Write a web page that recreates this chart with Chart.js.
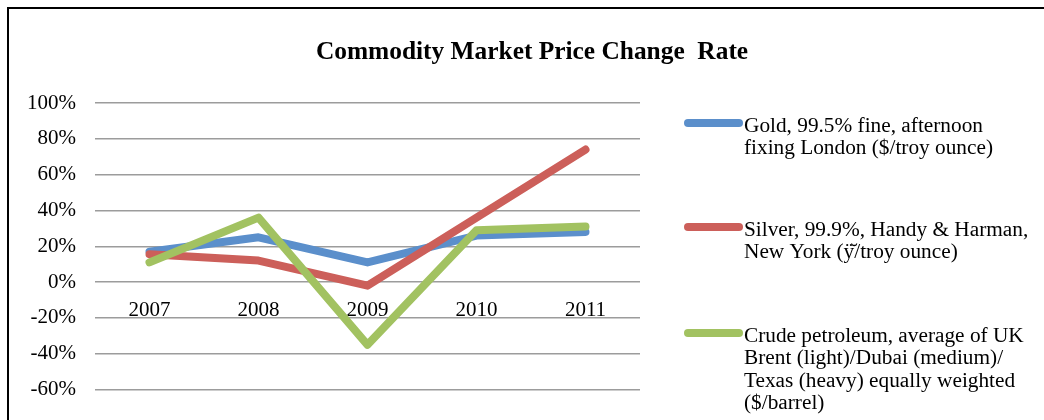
<!DOCTYPE html>
<html>
<head>
<meta charset="utf-8">
<script src="https://cdn.jsdelivr.net/npm/chart.js@4/dist/chart.umd.min.js"></script>
<style>
  html, body { margin: 0; padding: 0; background: #fff; overflow: hidden; }
  #wrap { width: 1044px; height: 457px; }
</style>
</head>
<body>
<div id="wrap"><canvas id="myChart" width="1044" height="457"></canvas></div>
<script>
const years = ['2007', '2008', '2009', '2010', '2011'];
const gold = [17, 25, 11, 26, 28];
const silver = [15.5, 12, -2, 36, 74];
const crude = [11, 36, -35, 29, 31];
// the axis runs down to -80%, but that part is cut off in the picture
const yTicks = [-60, -40, -20, 0, 20, 40, 60, 80, 100];

const chartTitle = 'Commodity Market Price Change  Rate';
const legendItems = [
    { color: '#5b8fcb', lines: ['Gold, 99.5% fine, afternoon', 'fixing London ($/troy ounce)'] },
    { color: '#cc5f5a', lines: ['Silver, 99.9%, Handy & Harman,', 'New York (\u00ff\u0306/troy ounce)'] },
    { color: '#a2c261', lines: ['Crude petroleum, average of UK', 'Brent (light)/Dubai (medium)/', 'Texas (heavy) equally weighted', '($/barrel)'] }
];

const serif = '"Liberation Serif", "Times New Roman", serif';

// frame, title and the legend on the right
const decor = {
    id: 'decor',
    beforeDraw(chart) {
        const ctx = chart.ctx;
        ctx.save();
        ctx.fillStyle = '#fff';
        ctx.fillRect(0, 0, chart.width, chart.height);
        ctx.strokeStyle = '#000';
        ctx.lineWidth = 2;
        ctx.beginPath();
        ctx.moveTo(8, chart.height);
        ctx.lineTo(8, 8);
        ctx.lineTo(chart.width, 8);
        ctx.stroke();
        ctx.restore();
    },
    afterDraw(chart) {
        const ctx = chart.ctx;
        ctx.save();
        ctx.fillStyle = '#000';
        ctx.font = 'bold 25.4px ' + serif;
        ctx.textAlign = 'center';
        ctx.textBaseline = 'alphabetic';
        ctx.fillText(chartTitle, 532, 59);

        const tops = [123, 227, 333];
        ctx.font = '21.3px ' + serif;
        ctx.textAlign = 'left';
        ctx.textBaseline = 'middle';
        legendItems.forEach((item, i) => {
            const y = tops[i];
            ctx.strokeStyle = item.color;
            ctx.lineWidth = 8;
            ctx.lineCap = 'round';
            ctx.beginPath();
            ctx.moveTo(688, y);
            ctx.lineTo(739, y);
            ctx.stroke();
            item.lines.forEach((t, j) => {
                ctx.fillText(t, 744, y + 3 + j * 22.5);
            });
        });
        ctx.restore();
    }
};

const makeSet = (label, data, color, order) => ({
    label: label,
    data: data,
    borderColor: color,
    backgroundColor: color,
    borderWidth: 8,
    borderCapStyle: 'round',
    borderJoinStyle: 'round',
    pointRadius: 0,
    pointHoverRadius: 0,
    tension: 0,
    order: order
});

new Chart(document.getElementById('myChart'), {
    type: 'line',
    data: {
        labels: years,
        datasets: [
            makeSet('Gold', gold, legendItems[0].color, 2),
            makeSet('Silver', silver, legendItems[1].color, 1),
            makeSet('Crude petroleum', crude, legendItems[2].color, 0)
        ]
    },
    plugins: [decor],
    options: {
        responsive: false,
        animation: false,
        layout: {
            padding: { left: 0, right: 404, top: 103, bottom: 0 }
        },
        plugins: {
            legend: { display: false },
            title: { display: false },
            tooltip: { enabled: false }
        },
        scales: {
            x: {
                position: { y: 0 },
                offset: true,
                grid: { display: false, drawTicks: false },
                border: { display: false },
                ticks: {
                    color: '#000',
                    font: { family: serif, size: 21 },
                    padding: 16,
                    maxRotation: 0
                }
            },
            y: {
                min: -80,
                max: 100,
                afterFit(scale) { scale.width = 95; },
                afterBuildTicks(scale) { scale.ticks = yTicks.map(v => ({ value: v })); },
                grid: { color: '#9c9c9c', lineWidth: 1.5, drawTicks: false },
                border: { display: false },
                ticks: {
                    color: '#000',
                    font: { family: serif, size: 21 },
                    padding: 19,
                    callback: v => v + '%'
                }
            }
        }
    }
});
</script>
</body>
</html>
